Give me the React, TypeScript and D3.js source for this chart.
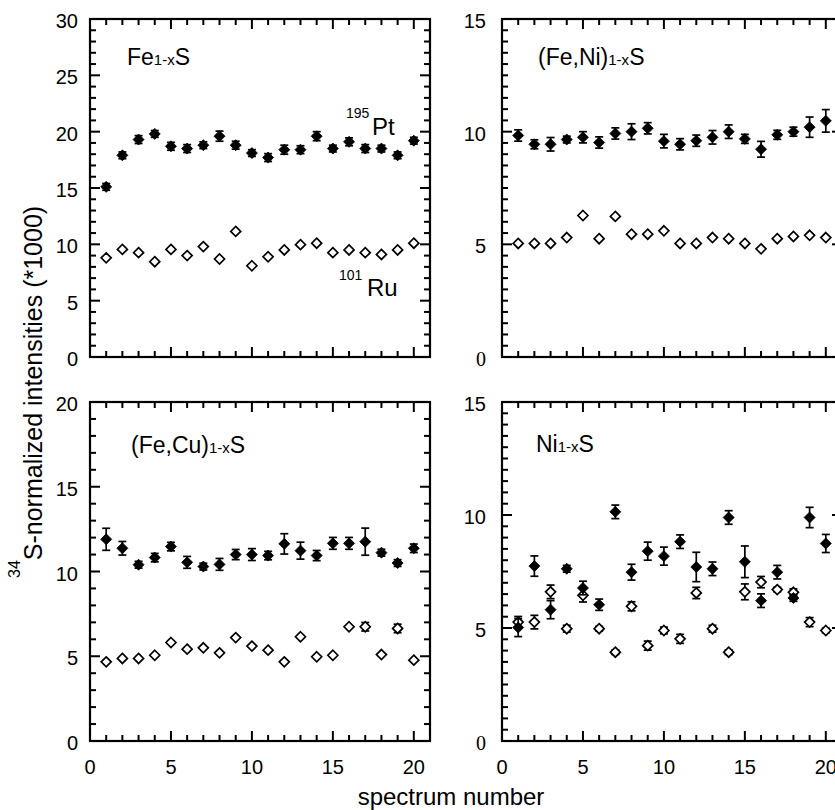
import React from 'react';
import * as d3 from 'd3';

// spectrum numbers (x categories)
const spectrumNumbers = [1, 2, 3, 4, 5, 6, 7, 8, 9, 10, 11, 12, 13, 14, 15, 16, 17, 18, 19, 20];
const xTickLabels = [0, 5, 10, 15, 20];

// Fe1-xS
const feS_Pt = [15.1, 17.9, 19.3, 19.8, 18.7, 18.5, 18.8, 19.6, 18.8, 18.1, 17.7, 18.4, 18.4, 19.6, 18.5, 19.1, 18.5, 18.5, 17.9, 19.2];
const feS_PtErr = [0.3, 0.3, 0.35, 0.3, 0.35, 0.35, 0.3, 0.45, 0.35, 0.3, 0.35, 0.4, 0.35, 0.4, 0.3, 0.35, 0.35, 0.3, 0.3, 0.3];
const feS_Ru = [8.8, 9.55, 9.26, 8.46, 9.55, 9.0, 9.8, 8.7, 11.15, 8.1, 8.9, 9.5, 9.97, 10.1, 9.26, 9.5, 9.26, 9.1, 9.5, 10.1];
const feS_RuErr = [0, 0, 0, 0, 0, 0, 0, 0, 0, 0, 0, 0, 0, 0, 0, 0, 0, 0, 0, 0];

// (Fe,Ni)1-xS
const feNiS_Pt = [9.83, 9.44, 9.44, 9.65, 9.75, 9.52, 9.92, 10.0, 10.15, 9.58, 9.44, 9.6, 9.75, 10.0, 9.68, 9.22, 9.86, 10.0, 10.2, 10.48];
const feNiS_PtErr = [0.25, 0.2, 0.3, 0.15, 0.25, 0.25, 0.25, 0.35, 0.25, 0.3, 0.25, 0.25, 0.3, 0.3, 0.2, 0.35, 0.2, 0.2, 0.45, 0.5];
const feNiS_Ru = [5.04, 5.04, 5.04, 5.3, 6.28, 5.25, 6.24, 5.45, 5.45, 5.6, 5.04, 5.04, 5.3, 5.25, 5.04, 4.8, 5.25, 5.35, 5.4, 5.3];
const feNiS_RuErr = [0, 0, 0, 0, 0, 0, 0, 0, 0, 0, 0, 0, 0, 0, 0, 0, 0, 0, 0, 0];

// (Fe,Cu)1-xS
const feCuS_Pt = [11.9, 11.37, 10.4, 10.82, 11.47, 10.54, 10.29, 10.42, 11.0, 11.0, 10.94, 11.63, 11.23, 10.94, 11.66, 11.66, 11.76, 11.11, 10.5, 11.37];
const feCuS_PtErr = [0.65, 0.4, 0.2, 0.25, 0.25, 0.35, 0.2, 0.35, 0.3, 0.35, 0.25, 0.6, 0.5, 0.3, 0.35, 0.35, 0.8, 0.2, 0.2, 0.25];
const feCuS_Ru = [4.67, 4.87, 4.87, 5.06, 5.81, 5.42, 5.5, 5.2, 6.1, 5.6, 5.36, 4.67, 6.15, 4.97, 5.06, 6.74, 6.74, 5.1, 6.64, 4.77];
const feCuS_RuErr = [0, 0, 0, 0, 0, 0, 0, 0, 0, 0, 0, 0, 0, 0, 0, 0, 0.25, 0, 0.25, 0];

// Ni1-xS
const niS_Pt = [5.02, 7.74, 5.81, 7.62, 6.77, 6.03, 10.14, 7.47, 8.4, 8.18, 8.82, 7.7, 7.62, 9.89, 7.93, 6.21, 7.47, 6.33, 9.89, 8.74];
const niS_PtErr = [0.4, 0.45, 0.4, 0.15, 0.3, 0.25, 0.3, 0.35, 0.4, 0.4, 0.3, 0.65, 0.3, 0.3, 0.7, 0.3, 0.3, 0.15, 0.45, 0.4];
const niS_Ru = [5.26, 5.26, 6.6, 4.97, 6.45, 4.97, 3.93, 5.96, 4.22, 4.89, 4.52, 6.55, 4.97, 3.93, 6.6, 7.03, 6.7, 6.58, 5.26, 4.89];
const niS_RuErr = [0.25, 0.3, 0.3, 0.15, 0.3, 0.1, 0.1, 0.2, 0.2, 0.15, 0.2, 0.25, 0.15, 0.1, 0.35, 0.25, 0.1, 0.15, 0.2, 0.1];

const FONT = '"Liberation Sans", Arial, sans-serif';

const panels = [
  { name: 'Fe', left: 90, top: 19, bottom: 357, yMax: 30, minor: 1, yTicks: [0, 5, 10, 15, 20, 25, 30], labOff: 12,
    pt: feS_Pt, ptErr: feS_PtErr, ru: feS_Ru, ruErr: feS_RuErr, showX: false, titleDx: 37, titleDy: 46, isoLabels: true },
  { name: '(Fe,Ni)', left: 502, top: 19, bottom: 357, yMax: 15, minor: 0.5, yTicks: [0, 5, 10, 15], labOff: 16,
    pt: feNiS_Pt, ptErr: feNiS_PtErr, ru: feNiS_Ru, ruErr: feNiS_RuErr, showX: false, titleDx: 36, titleDy: 46, isoLabels: false },
  { name: '(Fe,Cu)', left: 90, top: 402, bottom: 741, yMax: 20, minor: 1, yTicks: [0, 5, 10, 15, 20], labOff: 12,
    pt: feCuS_Pt, ptErr: feCuS_PtErr, ru: feCuS_Ru, ruErr: feCuS_RuErr, showX: true, titleDx: 41, titleDy: 51, isoLabels: false },
  { name: 'Ni', left: 502, top: 402, bottom: 741, yMax: 15, minor: 0.5, yTicks: [0, 5, 10, 15], labOff: 16,
    pt: niS_Pt, ptErr: niS_PtErr, ru: niS_Ru, ruErr: niS_RuErr, showX: true, titleDx: 34, titleDy: 50, isoLabels: false },
];

const diamond = (r: number) => `M0,${-r}L${r},0L0,${r}L${-r},0Z`;

function Panel({ p }: { p: typeof panels[number] }) {
  const x = d3.scaleLinear().domain([0, 21]).range([p.left, p.left + 340]);
  const y = d3.scaleLinear().domain([0, p.yMax]).range([p.bottom, p.top]);
  const xr = x.range();
  const xMinor = d3.range(0, 21.01, 1);
  const yMinor = d3.range(0, p.yMax + 0.001, p.minor);
  const isMajorX = (v: number) => v % 5 === 0;
  const isMajorY = (v: number) => Math.abs(v % 5) < 1e-6;
  const capW = 4;

  return (
    <g>
      {/* ticks on all four sides, pointing in */}
      {xMinor.map((v) => {
        const L = isMajorX(v) ? 10 : 6;
        return (
          <g key={'xt' + v} stroke="#000" strokeWidth={2}>
            <line x1={x(v)} x2={x(v)} y1={p.bottom} y2={p.bottom - L} />
            <line x1={x(v)} x2={x(v)} y1={p.top} y2={p.top + L} />
          </g>
        );
      })}
      {yMinor.map((v) => {
        const L = isMajorY(v) ? 10 : 6;
        return (
          <g key={'yt' + v} stroke="#000" strokeWidth={2}>
            <line x1={xr[0]} x2={xr[0] + L} y1={y(v)} y2={y(v)} />
            <line x1={xr[1]} x2={xr[1] - L} y1={y(v)} y2={y(v)} />
          </g>
        );
      })}
      <rect x={xr[0]} y={p.top} width={xr[1] - xr[0]} height={p.bottom - p.top} fill="none" stroke="#000" strokeWidth={2.2} />

      {/* y tick labels */}
      {p.yTicks.map((v) => (
        <text key={'yl' + v} x={xr[0] - p.labOff} y={y(v) + 9} textAnchor="end" fontSize={20}
          fontFamily={v === 0 && p.yMax === 15 ? '"Liberation Serif", serif' : FONT}>
          {v}
        </text>
      ))}
      {p.showX && xTickLabels.map((v) => (
        <text key={'xl' + v} x={x(v)} y={p.bottom + 33} textAnchor="middle" fontSize={20} fontFamily={FONT}>{v}</text>
      ))}

      {/* title */}
      <text x={xr[0] + p.titleDx} y={p.top + p.titleDy} fontSize={23} fontFamily={FONT}>
        {p.name}<tspan fontSize={15}>1-x</tspan>S
      </text>

      {/* Ru: open diamonds */}
      {spectrumNumbers.map((n, i) => (
        <g key={'ru' + n} stroke="#000" strokeWidth={1.7}>
          {p.ruErr[i] > 0 && (
            <g>
              <line x1={x(n)} x2={x(n)} y1={y(p.ru[i] - p.ruErr[i])} y2={y(p.ru[i] + p.ruErr[i])} />
              <line x1={x(n) - capW} x2={x(n) + capW} y1={y(p.ru[i] - p.ruErr[i])} y2={y(p.ru[i] - p.ruErr[i])} />
              <line x1={x(n) - capW} x2={x(n) + capW} y1={y(p.ru[i] + p.ruErr[i])} y2={y(p.ru[i] + p.ruErr[i])} />
            </g>
          )}
          <path d={diamond(5)} transform={`translate(${x(n)},${y(p.ru[i])})`} fill="#fff" />
        </g>
      ))}

      {/* Pt: filled diamonds with error bars */}
      {spectrumNumbers.map((n, i) => (
        <g key={'pt' + n} stroke="#000" strokeWidth={1.7}>
          <line x1={x(n)} x2={x(n)} y1={y(p.pt[i] - p.ptErr[i])} y2={y(p.pt[i] + p.ptErr[i])} />
          <line x1={x(n) - capW} x2={x(n) + capW} y1={y(p.pt[i] - p.ptErr[i])} y2={y(p.pt[i] - p.ptErr[i])} />
          <line x1={x(n) - capW} x2={x(n) + capW} y1={y(p.pt[i] + p.ptErr[i])} y2={y(p.pt[i] + p.ptErr[i])} />
          <path d={diamond(5.5)} transform={`translate(${x(n)},${y(p.pt[i])})`} fill="#000" strokeWidth={0.8} />
        </g>
      ))}

      {p.isoLabels && (
        <g fontFamily={FONT}>
          <text x={346} y={118} fontSize={14}>195</text>
          <text x={372} y={135} fontSize={24}>Pt</text>
          <text x={339} y={280} fontSize={14}>101</text>
          <text x={367} y={296} fontSize={24}>Ru</text>
        </g>
      )}
    </g>
  );
}

export default function App() {
  return (
    <svg width={835} height={810} style={{ position: 'absolute', left: 0, top: 0, background: '#fff' }}>
      {panels.map((p) => <Panel key={p.name} p={p} />)}
      <text x={451} y={805} textAnchor="middle" fontSize={24} fontFamily={FONT}>spectrum number</text>
      <text transform="translate(42,578) rotate(-90)" fontFamily={FONT}>
        <tspan fontSize={16} dy={-22}>34</tspan>
        <tspan fontSize={25} dy={22}>S-normalized intensities (*1000)</tspan>
      </text>
    </svg>
  );
}
